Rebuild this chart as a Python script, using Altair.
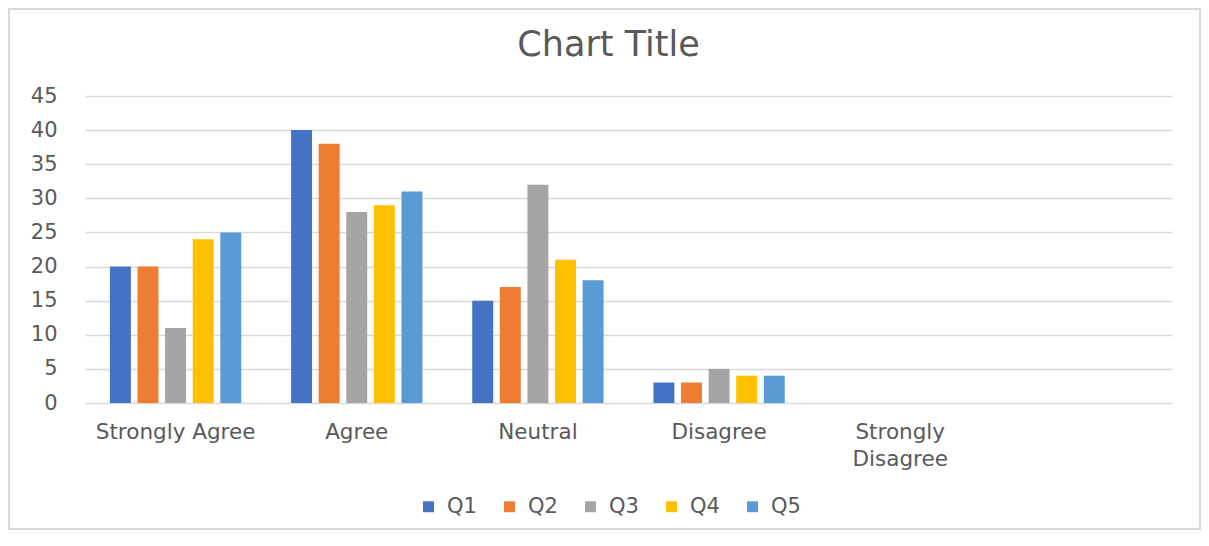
import altair as alt
import pandas as pd

categories = ["Strongly Agree", "Agree", "Neutral", "Disagree", "Strongly Disagree", " "]
series = ["Q1", "Q2", "Q3", "Q4", "Q5"]
values = {
    "Q1": [20, 40, 15, 3, 0, 0],
    "Q2": [20, 38, 17, 3, 0, 0],
    "Q3": [11, 28, 32, 5, 0, 0],
    "Q4": [24, 29, 21, 4, 0, 0],
    "Q5": [25, 31, 18, 4, 0, 0],
}
colors = ["#4472C4", "#ED7D31", "#A5A5A5", "#FFC000", "#5B9BD5"]
y_ticks = [0, 5, 10, 15, 20, 25, 30, 35, 40, 45]

rows = []
for s in series:
    for c, v in zip(categories, values[s]):
        rows.append({"category": c, "series": s, "value": v})
df = pd.DataFrame(rows)

FONT = "DejaVu Sans"
TXT = "#595959"
GRID = "#d9d9d9"

bars = alt.Chart(df).mark_bar().encode(
    x=alt.X(
        "category:N",
        sort=categories,
        scale=alt.Scale(domain=categories, paddingInner=0.275, paddingOuter=0.1375),
        axis=alt.Axis(
            title=None,
            ticks=False,
            domain=False,
            grid=False,
            labelAngle=0,
            labelPadding=18,
            labelFont=FONT,
            labelFontSize=21.5,
            labelColor=TXT,
            labelLineHeight=27,
            labelExpr="datum.value == 'Strongly Disagree' ? ['Strongly', 'Disagree'] : datum.value",
        ),
    ),
    xOffset=alt.XOffset("series:N", sort=series, scale=alt.Scale(paddingInner=0.24)),
    y=alt.Y(
        "value:Q",
        scale=alt.Scale(domain=[0, 45], nice=False),
        axis=alt.Axis(
            title=None,
            values=y_ticks,
            ticks=False,
            tickSize=0,
            domain=False,
            grid=True,
            gridColor=GRID,
            gridWidth=1.5,
            labelPadding=28,
            labelFont=FONT,
            labelFontSize=21,
            labelColor=TXT,
        ),
    ),
    color=alt.Color(
        "series:N",
        sort=series,
        scale=alt.Scale(domain=series, range=colors),
        legend=alt.Legend(
            title=None,
            orient="none",
            direction="horizontal",
            legendX=333,
            legendY=400,
            symbolType="square",
            symbolSize=120,
            symbolStrokeWidth=0,
            labelFont=FONT,
            labelFontSize=21,
            labelColor=TXT,
            labelOffset=8,
            columnPadding=22,
        ),
    ),
)

border = alt.Chart(pd.DataFrame({"a": [0]})).mark_rect(
    fill=None, stroke=GRID, strokeWidth=2
).encode(
    x=alt.value(-76), x2=alt.value(1115), y=alt.value(-87), y2=alt.value(433)
)

chart = alt.layer(border, bars).properties(
    width=1087,
    height=307,
    background="white",
    padding={"left": 77, "top": 88, "right": 29, "bottom": 127},
    autosize=alt.AutoSizeParams(type="none"),
    title=alt.TitleParams(
        "Chart Title",
        font=FONT,
        fontSize=35,
        fontWeight="normal",
        color=TXT,
        anchor="middle",
        baseline="alphabetic",
        dx=-20,
        offset=-83,
    ),
).configure_view(strokeWidth=0)

chart.save("out.html", embed_options={"renderer": "svg", "actions": False})
